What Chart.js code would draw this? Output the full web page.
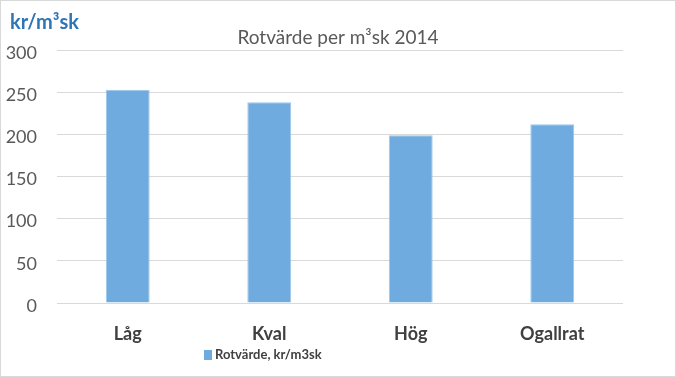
<!DOCTYPE html>
<html>
<head>
<meta charset="utf-8">
<script src="https://cdn.jsdelivr.net/npm/chart.js@4"></script>
<style>
  html, body { margin: 0; padding: 0; background: #fff; }
  #wrap { position: relative; width: 674px; height: 375px; border: 1px solid #d9d9d9; }
</style>
</head>
<body>
<div id="wrap"><canvas id="chart"></canvas></div>
<script>
const categories = ['Låg', 'Kval', 'Hög', 'Ogallrat'];
const rotvarde = [253, 238, 199, 212];
const yTicks = [0, 50, 100, 150, 200, 250, 300];
const seriesName = 'Rotvärde, kr/m3sk';
const unitLabel = 'kr/m³sk';
const chartTitle = 'Rotvärde per m³sk 2014';

Chart.defaults.font.family = 'Lato, "Open Sans", sans-serif';
Chart.defaults.color = '#595959';

// unit text top-left, centred title, and the legend under the axis
const extras = {
    id: 'extras',
    afterDraw(chart) {
        const c = chart.ctx;
        c.save();
        c.fillStyle = '#2E75B6';
        c.font = 'bold 20px Lato, sans-serif';
        c.textBaseline = 'alphabetic';
        c.textAlign = 'left';
        c.fillText(unitLabel, 9, 28);

        c.fillStyle = '#595959';
        c.font = '19px Lato, sans-serif';
        c.textAlign = 'center';
        c.textBaseline = 'middle';
        c.fillText(chartTitle, chart.width / 2, 37);

        const ds = chart.data.datasets[0];
        c.fillStyle = ds.backgroundColor;
        c.fillRect(203, 349, 8, 10);
        c.fillStyle = '#404040';
        c.font = 'bold 13px Lato, sans-serif';
        c.textAlign = 'left';
        c.fillText(ds.label, 214, 354);
        c.restore();
    }
};

const ctx = document.getElementById('chart').getContext('2d');
new Chart(ctx, {
    type: 'bar',
    data: {
        labels: categories,
        datasets: [{
            label: seriesName,
            data: rotvarde,
            backgroundColor: '#6FABDE',
            borderColor: '#9cc6ea',
            borderWidth: 1,
            categoryPercentage: 0.31,
            barPercentage: 1
        }]
    },
    options: {
        responsive: true,
        maintainAspectRatio: false,
        animation: false,
        layout: { padding: { left: 5, right: 52, top: 49, bottom: 13 } },
        plugins: {
            legend: { display: false },
            title: { display: false },
            tooltip: { enabled: false }
        },
        scales: {
            x: {
                grid: { display: false },
                border: { display: false },
                ticks: { color: '#404040', font: { size: 18, weight: 'bold' }, padding: 12 },
                afterFit: axis => { axis.height = 60; }
            },
            y: {
                min: 0,
                max: 300,
                afterBuildTicks: axis => { axis.ticks = yTicks.map(v => ({ value: v })); },
                grid: { color: '#d9d9d9', drawTicks: false },
                border: { display: false },
                ticks: { color: '#595959', font: { size: 18 }, padding: 20, autoSkip: false, labelOffset: 3 },
                afterFit: axis => { axis.width = 51; }
            }
        }
    },
    plugins: [extras]
});
</script>
</body>
</html>
